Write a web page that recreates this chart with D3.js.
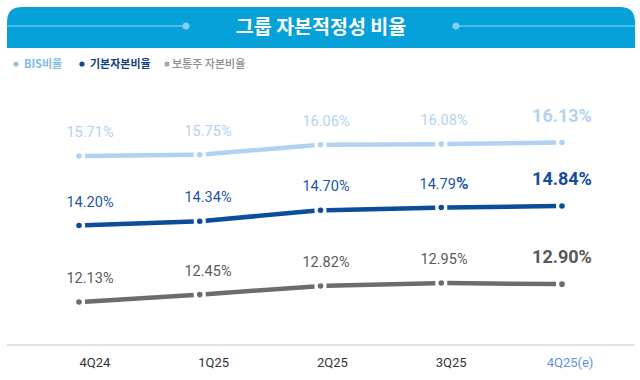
<!DOCTYPE html>
<html><head><meta charset="utf-8">
<script src="https://cdn.jsdelivr.net/npm/d3@7"></script>
<style>
html,body{margin:0;padding:0;background:#fff;}
svg{display:block;font-family:Roboto,"Noto Sans CJK KR",sans-serif;}
</style></head>
<body>
<svg id="chart" width="640" height="380"></svg>
<script>
const title = "그룹 자본적정성 비율";
const categories = ["4Q24","1Q25","2Q25","3Q25","4Q25(e)"];
const seriesNames = ["BIS비율","기본자본비율","보통주 자본비율"];
const bis   = [15.71,15.75,16.06,16.08,16.13];
const tier1 = [14.20,14.34,14.70,14.79,14.84];
const cet1  = [12.13,12.45,12.82,12.95,12.90];

const svg = d3.select("#chart");
const W = 640, H = 380;

// header
const hx0 = 7, hx1 = 635, hy0 = 7, hy1 = 48, r = 15;
svg.append("path")
  .attr("d", `M${hx0},${hy1} L${hx0},${hy0+r} Q${hx0},${hy0} ${hx0+r},${hy0} L${hx1-r},${hy0} Q${hx1},${hy0} ${hx1},${hy0+r} L${hx1},${hy1} Z`)
  .attr("fill", "#06a1d9");
const decoY = 26;
svg.append("line").attr("x1", hx0).attr("x2", 186).attr("y1", decoY).attr("y2", decoY)
  .attr("stroke", "#62c6ee").attr("stroke-width", 1.5);
svg.append("line").attr("x1", 456).attr("x2", hx1).attr("y1", decoY).attr("y2", decoY)
  .attr("stroke", "#62c6ee").attr("stroke-width", 1.5);
[186, 456].forEach(cx => svg.append("circle").attr("cx", cx).attr("cy", decoY).attr("r", 3.5).attr("fill", "#7fd0f1"));
svg.append("text").attr("x", 321).attr("y", 34).attr("text-anchor", "middle")
  .attr("fill", "#fff").attr("font-size", 19.5).attr("font-weight", 700)
  .attr("font-family", "'Noto Sans CJK KR',sans-serif").text(title);

// legend
const legendColors = ["#8cc6ec", "#0d4a98", "#a9a9a9"];
const legendTextColors = ["#7dbbe6", "#123f80", "#8d8d8d"];
const legendX = [16, 82, 167];
const legendWeights = [700, 700, 500];
seriesNames.forEach((n, i) => {
  svg.append("circle").attr("cx", legendX[i]).attr("cy", 64).attr("r", 2.6).attr("fill", legendColors[i]);
  svg.append("text").attr("x", legendX[i] + (i === 2 ? 5 : 8)).attr("y", 68)
    .attr("font-size", 11).attr("font-weight", legendWeights[i])
    .attr("font-family", "'Noto Sans CJK KR',sans-serif")
    .attr("fill", legendTextColors[i]).text(n);
});

// scales
const x = d3.scalePoint().domain(categories).range([79, 562]);
const xLabel = d3.scalePoint().domain(categories).range([90, 562]);
const xAxisLabel = d3.scalePoint().domain(categories).range([95, 570]);

const series = [
  {name: seriesNames[0], values: bis,   y: d3.scaleLinear().domain([15.71, 16.13]).range([156, 142.5]),
   color: "#b1d3f1", dot: "#b1d3f1", label: "#b3d2ef", boldLabel: "#b2d3f1", width: 4.5},
  {name: seriesNames[1], values: tier1, y: d3.scaleLinear().domain([14.20, 14.84]).range([225.5, 206]),
   color: "#0b4c9c", dot: "#0b4c9c", label: "#1b56a6", boldLabel: "#134d9c", width: 4.5},
  {name: seriesNames[2], values: cet1,  y: d3.scaleLinear().domain([12.13, 12.95]).range([302, 283]),
   color: "#6c6c6c", dot: "#6c6c6c", label: "#5a5a5a", boldLabel: "#585858", width: 4.5}
];

const gap = 6;
series.forEach((s, si) => {
  const g = svg.append("g");
  const pts = s.values.map((v, i) => [x(categories[i]), s.y(v)]);
  for (let i = 0; i < pts.length - 1; i++) {
    const [x1, y1] = pts[i], [x2, y2] = pts[i+1];
    const len = Math.hypot(x2 - x1, y2 - y1);
    const ux = (x2 - x1) / len, uy = (y2 - y1) / len;
    g.append("line")
      .attr("x1", x1 + ux*gap).attr("y1", y1 + uy*gap)
      .attr("x2", x2 - ux*gap).attr("y2", y2 - uy*gap)
      .attr("stroke", s.color).attr("stroke-width", s.width);
  }
  pts.forEach(p => g.append("circle").attr("cx", p[0]).attr("cy", p[1]).attr("r", 2.8).attr("fill", s.dot));

  s.values.forEach((v, i) => {
    const last = i === s.values.length - 1;
    const t = g.append("text")
      .attr("x", xLabel(categories[i]))
      .attr("y", s.y(v) - (last ? 21 : 19))
      .attr("text-anchor", "middle")
      .attr("fill", last ? s.boldLabel : s.label);
    if (last) {
      t.attr("font-size", 18).attr("font-weight", 700).text(v.toFixed(2) + "%");
    } else if (si === 1 && i === 3) {
      t.attr("font-size", 14.5).attr("font-weight", 400);
      t.append("tspan").text(v.toFixed(2));
      t.append("tspan").attr("font-size", 17).attr("font-weight", 700).text("%");
    } else {
      t.attr("font-size", 14.5).attr("font-weight", 400).text(v.toFixed(2) + "%");
    }
  });
});

// axis
const axisG = svg.append("g").attr("transform", "translate(0,345)");
axisG.append("line").attr("x1", 7).attr("x2", 635).attr("stroke", "#c8c8c8").attr("stroke-width", 1.2);
axisG.selectAll("text.cat").data(categories).join("text")
  .attr("class", "cat")
  .attr("x", d => xAxisLabel(d))
  .attr("y", 22)
  .attr("text-anchor", "middle")
  .attr("font-size", 13)
  .attr("fill", (d, i) => i === categories.length - 1 ? "#5f92dc" : "#333")
  .text(d => d);
</script>
</body></html>
